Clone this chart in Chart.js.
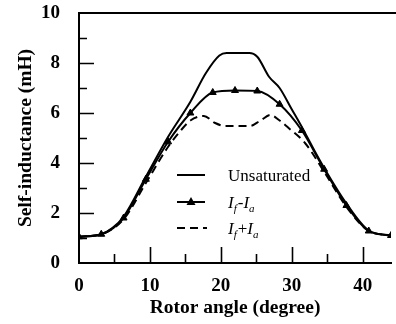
<!DOCTYPE html>
<html>
<head>
<meta charset="utf-8">
<script src="https://cdn.jsdelivr.net/npm/chart.js@4.4.1/dist/chart.umd.min.js"></script>
<style>
html, body { margin: 0; padding: 0; background: #fff; }
</style>
</head>
<body>
<canvas id="chart1" width="396" height="324"></canvas>
<script>
// rotor angle (degree) / self-inductance (mH)
var markerAngles = [0, 3.14, 6.29, 9.43, 12.57, 15.71, 18.86, 22, 25.14, 28.29, 31.43, 34.57, 37.71, 40.86, 44];
var ifMinusIa = [1.05, 1.15, 1.8, 3.35, 4.85, 6.0, 6.82, 6.9, 6.88, 6.35, 5.3, 3.75, 2.3, 1.28, 1.1];

var unsatAngles = [0, 3.14, 4.7, 6.29, 9.43, 12.57, 15.71, 17.9, 19.8, 20.8, 24.0, 25.14, 26.8, 28.29, 30, 31.5, 33, 34.57, 37.71, 40.86, 44];
var unsatValues = [1.05, 1.15, 1.4, 1.85, 3.45, 5.05, 6.45, 7.6, 8.3, 8.4, 8.4, 8.25, 7.45, 7.0, 6.15, 5.4, 4.6, 3.8, 2.38, 1.3, 1.1];

var ifPlusAngles = [0, 3.14, 6.29, 9.43, 12.57, 14.2, 15.71, 17.6, 19.2, 20.6, 24.1, 25.6, 27.0, 28.29, 29.6, 31.9, 34.57, 37.71, 40.86, 44];
var ifPlusValues = [1.05, 1.15, 1.75, 3.2, 4.65, 5.25, 5.7, 5.88, 5.6, 5.48, 5.48, 5.7, 5.92, 5.7, 5.39, 4.79, 3.65, 2.25, 1.28, 1.1];

var xMajorTicks = [10, 20, 30, 40];
var xMinorTicks = [5, 15, 25, 35];
var yMajorTicks = [2, 4, 6, 8];
var yMinorTicks = [1, 3, 5, 7, 9];

var serif = "'Liberation Serif', 'Times New Roman', serif";

function toPoints(xs, ys) {
    return xs.map(function (x, i) { return { x: x, y: ys[i] }; });
}

// inward tick marks, top frame line and the legend
var framePlugin = {
    id: 'frame',
    afterDraw: function (chart) {
        var ctx = chart.ctx;
        var area = chart.chartArea;
        var xs = chart.scales.x;
        var ys = chart.scales.y;
        ctx.save();
        ctx.strokeStyle = '#000';
        ctx.lineWidth = 2;
        ctx.beginPath();
        ctx.moveTo(area.left - 1, area.top);
        ctx.lineTo(chart.width, area.top);
        ctx.stroke();

        ctx.lineWidth = 1.6;
        ctx.beginPath();
        xMajorTicks.forEach(function (v) {
            var px = Math.round(xs.getPixelForValue(v)) + 0.5;
            ctx.moveTo(px, area.bottom); ctx.lineTo(px, area.bottom - 16);
        });
        xMinorTicks.forEach(function (v) {
            var px = Math.round(xs.getPixelForValue(v)) + 0.5;
            ctx.moveTo(px, area.bottom); ctx.lineTo(px, area.bottom - 9);
        });
        yMajorTicks.forEach(function (v) {
            var py = Math.round(ys.getPixelForValue(v)) + 0.5;
            ctx.moveTo(area.left, py); ctx.lineTo(area.left + 15, py);
        });
        yMinorTicks.forEach(function (v) {
            var py = Math.round(ys.getPixelForValue(v)) + 0.5;
            ctx.moveTo(area.left, py); ctx.lineTo(area.left + 8, py);
        });
        ctx.stroke();

        // legend
        var lx1 = 177, lx2 = 205, tx = 228;
        var rows = [175, 202, 228];
        ctx.lineWidth = 2;
        ctx.beginPath();
        ctx.moveTo(lx1, rows[0]); ctx.lineTo(lx2, rows[0]);
        ctx.moveTo(lx1, rows[1]); ctx.lineTo(lx2, rows[1]);
        ctx.stroke();
        ctx.setLineDash([8, 5]);
        ctx.beginPath();
        ctx.moveTo(lx1, rows[2]); ctx.lineTo(lx2 + 2, rows[2]);
        ctx.stroke();
        ctx.setLineDash([]);
        var mx = (lx1 + lx2) / 2, my = rows[1];
        ctx.fillStyle = '#000';
        ctx.beginPath();
        ctx.moveTo(mx, my - 5); ctx.lineTo(mx + 4.5, my + 3); ctx.lineTo(mx - 4.5, my + 3);
        ctx.closePath();
        ctx.fill();

        ctx.textBaseline = 'alphabetic';
        ctx.textAlign = 'left';
        ctx.font = '17px ' + serif;
        ctx.fillText('Unsaturated', tx, rows[0] + 6);

        function sub(x, y, main, s) {
            ctx.font = 'italic 17px ' + serif;
            ctx.fillText(main, x, y);
            x += ctx.measureText(main).width;
            ctx.font = 'italic 11px ' + serif;
            ctx.fillText(s, x, y + 4);
            return x + ctx.measureText(s).width;
        }
        [['-', rows[1]], ['+', rows[2]]].forEach(function (r) {
            var y = r[1] + 6;
            var x = sub(tx, y, 'I', 'f') + 1;
            ctx.font = '17px ' + serif;
            ctx.fillText(r[0], x, y);
            x += ctx.measureText(r[0]).width;
            sub(x, y, 'I', 'a');
        });
        ctx.restore();
    }
};

var chartCont = document.getElementById('chart1');
var myLineChart = new Chart(chartCont, {
    type: 'line',
    data: {
        datasets: [{
            label: 'Unsaturated',
            data: toPoints(unsatAngles, unsatValues),
            borderColor: '#000',
            borderWidth: 2,
            pointRadius: 0,
            cubicInterpolationMode: 'monotone'
        }, {
            label: 'If-Ia',
            data: toPoints(markerAngles, ifMinusIa),
            borderColor: '#000',
            backgroundColor: '#000',
            borderWidth: 2,
            pointStyle: 'triangle',
            pointRadius: 4,
            pointBorderWidth: 1,
            cubicInterpolationMode: 'monotone'
        }, {
            label: 'If+Ia',
            data: toPoints(ifPlusAngles, ifPlusValues),
            borderColor: '#000',
            borderWidth: 2,
            borderDash: [8, 5],
            pointRadius: 0,
            cubicInterpolationMode: 'monotone'
        }]
    },
    options: {
        responsive: false,
        animation: false,
        layout: { padding: { top: 13, right: 3, left: 0, bottom: 0 } },
        plugins: {
            legend: { display: false },
            tooltip: { enabled: false }
        },
        scales: {
            x: {
                type: 'linear',
                min: 0,
                max: 44,
                afterFit: function (s) {
                    s.height = 61;
                    s.paddingLeft = 0; s.paddingRight = 0;
                },
                ticks: {
                    stepSize: 10,
                    includeBounds: false,
                    maxRotation: 0,
                    padding: 12,
                    color: '#000',
                    font: { family: serif, size: 19, weight: 'bold' }
                },
                grid: { display: false, drawTicks: false },
                border: { display: true, color: '#000', width: 2 },
                title: {
                    display: true,
                    text: 'Rotor angle (degree)',
                    color: '#000',
                    font: { family: serif, size: 19.5, weight: 'bold' },
                    padding: { top: 0, bottom: 4 }
                }
            },
            y: {
                min: 0,
                max: 10,
                afterFit: function (s) {
                    s.width = 79;
                    s.paddingTop = 0; s.paddingBottom = 0;
                },
                ticks: {
                    stepSize: 2,
                    padding: 19,
                    color: '#000',
                    font: { family: serif, size: 19, weight: 'bold' }
                },
                grid: { display: false, drawTicks: false },
                border: { display: true, color: '#000', width: 2 },
                title: {
                    display: true,
                    text: 'Self-inductance (mH)',
                    color: '#000',
                    font: { family: serif, size: 19.5, weight: 'bold' },
                    padding: { top: 14, bottom: 0 }
                }
            }
        }
    },
    plugins: [framePlugin]
});
</script>
</body>
</html>
